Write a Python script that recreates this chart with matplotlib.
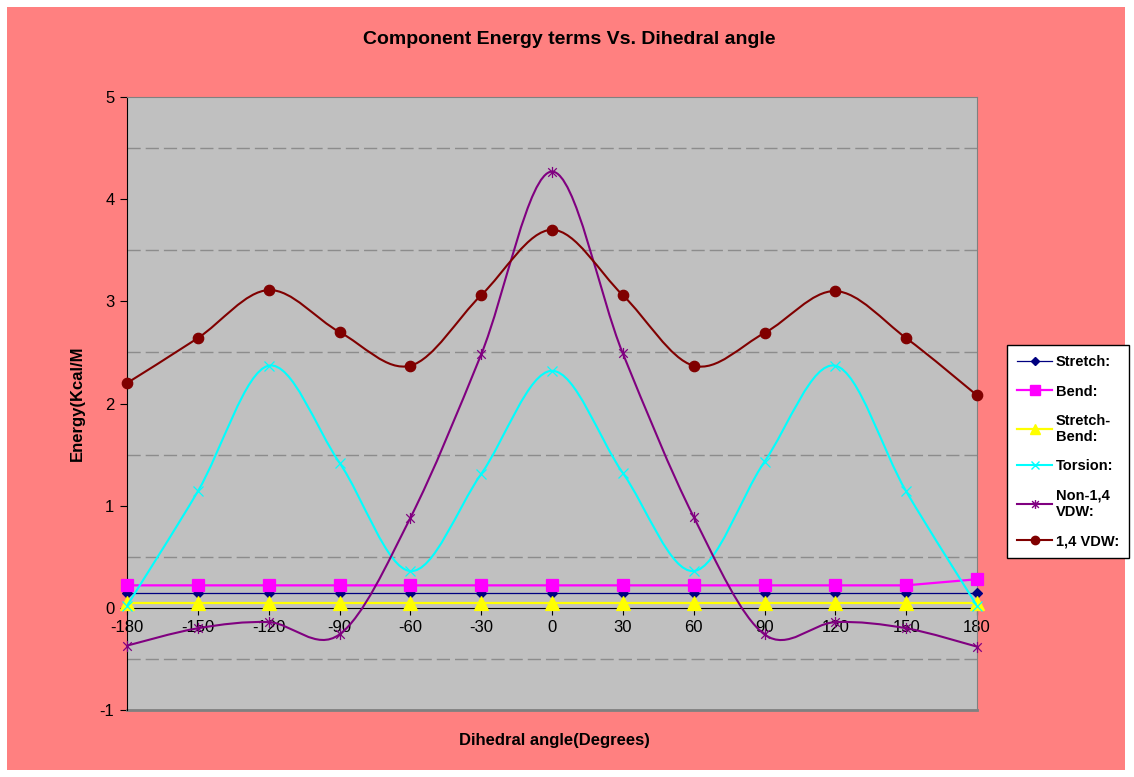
import matplotlib
matplotlib.use("Agg")
import matplotlib.pyplot as plt
import numpy as np
from matplotlib.path import Path
from matplotlib.patches import PathPatch, Rectangle
from matplotlib.lines import Line2D

plt.rcParams['font.family'] = ['Liberation Sans', 'DejaVu Sans']
plt.rcParams['lines.scale_dashes'] = False

# data
angles = [-180, -150, -120, -90, -60, -30, 0, 30, 60, 90, 120, 150, 180]
stretch = [0.15, 0.15, 0.15, 0.15, 0.15, 0.15, 0.15, 0.15, 0.15, 0.15, 0.15, 0.15, 0.15]
bend = [0.22, 0.22, 0.22, 0.22, 0.22, 0.22, 0.22, 0.22, 0.22, 0.22, 0.22, 0.22, 0.28]
stretch_bend = [0.05, 0.05, 0.05, 0.05, 0.05, 0.05, 0.05, 0.05, 0.05, 0.05, 0.05, 0.05, 0.05]
torsion = [0.02, 1.14, 2.37, 1.42, 0.36, 1.31, 2.32, 1.32, 0.36, 1.43, 2.37, 1.14, 0.02]
non14_vdw = [-0.37, -0.20, -0.14, -0.26, 0.88, 2.48, 4.27, 2.49, 0.89, -0.26, -0.14, -0.20, -0.38]
vdw14 = [2.20, 2.64, 3.11, 2.70, 2.37, 3.06, 3.70, 3.06, 2.37, 2.69, 3.10, 2.64, 2.08]

series_labels = ["Stretch:", "Bend:", "Stretch-\nBend:", "Torsion:", "Non-1,4\nVDW:", "1,4 VDW:"]
x_ticks = list(range(-180, 181, 30))
y_ticks = [-1, 0, 1, 2, 3, 4, 5]

# asterisk marker like the spreadsheet one: an x plus a vertical bar
star_verts = [(-1, -1), (1, 1), (-1, 1), (1, -1), (0, -1.3), (0, 1.3)]
star_codes = [Path.MOVETO, Path.LINETO] * 3
star_marker = Path(star_verts, star_codes)


def smooth_path(x, y):
    # Catmull-Rom style bezier through the points (spreadsheet "smoothed line")
    pts = np.column_stack([x, y]).astype(float)
    verts = [pts[0]]
    codes = [Path.MOVETO]
    n = len(pts)
    for i in range(n - 1):
        p0 = pts[max(i - 1, 0)]
        p1 = pts[i]
        p2 = pts[i + 1]
        p3 = pts[min(i + 2, n - 1)]
        c1 = p1 + (p2 - p0) / 6.0
        c2 = p2 - (p3 - p1) / 6.0
        verts += [c1, c2, p2]
        codes += [Path.CURVE4] * 3
    return Path(verts, codes)


fig = plt.figure(figsize=(11.34, 7.77), dpi=100, facecolor="white")
fig.patches.append(Rectangle((7 / 1134, 7 / 777), 1118 / 1134, 763 / 777,
                             transform=fig.transFigure, facecolor="#FF8080",
                             edgecolor="none", zorder=-10))

ax = fig.add_axes([127 / 1134, 67 / 777, 850 / 1134, 613 / 777])
ax.set_facecolor("#C0C0C0")
ax.set_xlim(-180, 180)
ax.set_ylim(-1, 5)

# half-unit dashed gridlines
for gy in [-0.5, 0.5, 1.5, 2.5, 3.5, 4.5]:
    ax.axhline(gy, color="#8C8C8C", lw=1.0, linestyle=(0, (9.5, 3.6)), zorder=1)

series = [
    (stretch, "#000080", "D", 5.5, 0.9, False),
    (bend, "#FF00FF", "s", 8.5, 1.6, False),
    (stretch_bend, "#FFFF00", "^", 9.5, 1.6, False),
    (torsion, "#00FFFF", "x", 7.5, 1.5, True),
    (non14_vdw, "#800080", star_marker, 8, 1.5, True),
    (vdw14, "#800000", "o", 7.5, 1.5, True),
]

handles = []
for i, (vals, col, mk, ms, lw, smooth) in enumerate(series):
    z = 3 + i
    if smooth:
        ax.add_patch(PathPatch(smooth_path(angles, vals), facecolor="none",
                               edgecolor=col, lw=lw, zorder=z))
    else:
        ax.plot(angles, vals, color=col, lw=lw, zorder=z)
    ax.plot(angles, vals, linestyle="none", marker=mk, markersize=ms,
            color=col, markerfacecolor=col, markeredgecolor=col,
            markeredgewidth=0.9, zorder=z + 0.5, clip_on=False)
    handles.append(Line2D([], [], color=col, lw=lw, marker=mk,
                          markersize=ms * 0.8, markerfacecolor=col,
                          markeredgecolor=col))

# axes: x axis crosses at y=0, frame around the plot area
ax.spines["bottom"].set_position(("data", 0))
ax.spines["bottom"].set_color("black")
ax.spines["bottom"].set_zorder(2.5)
ax.spines["left"].set_color("black")
ax.spines["top"].set_color("#808080")
ax.spines["right"].set_color("#808080")
ax.axhline(-1, color="#808080", lw=2, zorder=2, clip_on=False)

ax.set_xticks(x_ticks)
ax.set_xticklabels([str(t) for t in x_ticks])
ax.set_yticks(y_ticks)
ax.set_yticklabels([str(t) for t in y_ticks])
ax.tick_params(axis="x", direction="out", length=5, color="black",
               labelsize=12, pad=4)
ax.tick_params(axis="y", direction="out", length=5, color="black",
               labelsize=12, pad=4)

fig.text(0.502, 1 - 40 / 777, "Component Energy terms Vs. Dihedral angle",
         ha="center", va="center", fontsize=14, fontweight="bold")
fig.text(554 / 1134, 1 - 741 / 777, "Dihedral angle(Degrees)",
         ha="center", va="center", fontsize=12, fontweight="bold")
fig.text(77 / 1134, 1 - 403 / 777, "Energy(Kcal/M", rotation=90,
         ha="center", va="center", fontsize=12, fontweight="bold")

leg = fig.legend(handles, series_labels, loc="upper left",
                 bbox_to_anchor=(1007 / 1134, 1 - 345 / 777),
                 bbox_transform=fig.transFigure, frameon=True, fancybox=False,
                 framealpha=1, edgecolor="black", facecolor="white",
                 prop={"weight": "bold", "size": 10.5}, handlelength=2.4,
                 handletextpad=0.25, labelspacing=1.05, borderpad=0.7,
                 borderaxespad=0)
leg.get_frame().set_linewidth(1.0)

fig.savefig("out.png", dpi=100, facecolor=fig.get_facecolor())
